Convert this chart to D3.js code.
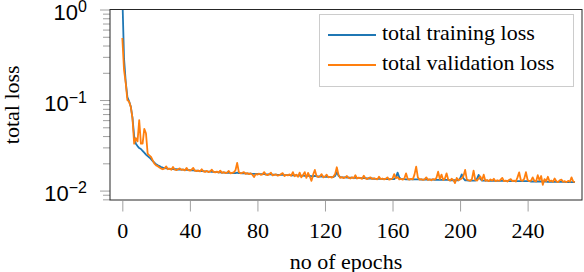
<!doctype html>
<html lang="en">
<head>
    <meta charset="UTF-8">
    <title>total loss</title>
    <script type="text/javascript" src="https://cdn.jsdelivr.net/npm/d3@7/dist/d3.min.js"></script>
    <style type="text/css">
        body {
            margin: 0;
            background: #fff;
        }
        svg {
            display: block;
            font-family: "Liberation Serif", "Times New Roman", serif;
        }
    </style>
</head>
<body>
<script type="text/javascript">
    // values, one per epoch (0..268)
    var training_loss = [
        1.45, 0.29, 0.16, 0.108, 0.097, 0.085, 0.064, 0.040, 0.033, 0.031,
        0.0295, 0.0288, 0.0275, 0.0262, 0.0250, 0.0240, 0.0232, 0.0222, 0.0212, 0.0203,
        0.0196, 0.0190, 0.0186, 0.0182, 0.0179, 0.0177, 0.0176, 0.0175, 0.0174, 0.0174,
        0.0173, 0.0172, 0.0172, 0.0171, 0.0171, 0.0170, 0.0170, 0.0169, 0.0169, 0.0168,
        0.0168, 0.0167, 0.0167, 0.0166, 0.0166, 0.0165, 0.0165, 0.0164, 0.0164, 0.0163,
        0.0163, 0.0162, 0.0162, 0.0161, 0.0161, 0.0160, 0.0160, 0.0159, 0.0159, 0.0158,
        0.0158, 0.0158, 0.0157, 0.0157, 0.0157, 0.0156, 0.0157, 0.0156, 0.0158, 0.0156,
        0.0156, 0.0155, 0.0155, 0.0155, 0.0154, 0.0154, 0.0154, 0.0153, 0.0153, 0.0153,
        0.0153, 0.0152, 0.0152, 0.0152, 0.0152, 0.0151, 0.0151, 0.0151, 0.0151, 0.0150,
        0.0150, 0.0150, 0.0149, 0.0149, 0.0149, 0.0149, 0.0148, 0.0148, 0.0148, 0.0148,
        0.0147, 0.0147, 0.0147, 0.0147, 0.0146, 0.0146, 0.0146, 0.0146, 0.0145, 0.0145,
        0.0145, 0.0145, 0.0144, 0.0144, 0.0145, 0.0144, 0.0143, 0.0143, 0.0143, 0.0143,
        0.0142, 0.0142, 0.0142, 0.0142, 0.0141, 0.0141, 0.0145, 0.0160, 0.0146, 0.0141,
        0.0140, 0.0140, 0.0140, 0.0139, 0.0139, 0.0139, 0.0139, 0.0138, 0.0138, 0.0138,
        0.0138, 0.0137, 0.0137, 0.0137, 0.0137, 0.0136, 0.0136, 0.0136, 0.0136, 0.0135,
        0.0135, 0.0135, 0.0135, 0.0135, 0.0135, 0.0134, 0.0134, 0.0134, 0.0134, 0.0134,
        0.0134, 0.0134, 0.0140, 0.0158, 0.0140, 0.0134, 0.0134, 0.0134, 0.0133, 0.0133,
        0.0133, 0.0133, 0.0133, 0.0133, 0.0133, 0.0133, 0.0133, 0.0132, 0.0132, 0.0132,
        0.0132, 0.0132, 0.0132, 0.0132, 0.0132, 0.0131, 0.0131, 0.0131, 0.0131, 0.0131,
        0.0131, 0.0131, 0.0131, 0.0131, 0.0130, 0.0130, 0.0130, 0.0130, 0.0130, 0.0130,
        0.0136, 0.0151, 0.0136, 0.0130, 0.0130, 0.0129, 0.0129, 0.0129, 0.0129, 0.0129,
        0.0135, 0.0149, 0.0134, 0.0129, 0.0129, 0.0129, 0.0129, 0.0128, 0.0128, 0.0128,
        0.0128, 0.0128, 0.0128, 0.0128, 0.0128, 0.0128, 0.0128, 0.0128, 0.0127, 0.0127,
        0.0127, 0.0127, 0.0127, 0.0127, 0.0127, 0.0127, 0.0127, 0.0127, 0.0127, 0.0127,
        0.0127, 0.0127, 0.0126, 0.0126, 0.0126, 0.0126, 0.0126, 0.0126, 0.0126, 0.0126,
        0.0126, 0.0126, 0.0125, 0.0125, 0.0125, 0.0125, 0.0125, 0.0125, 0.0125, 0.0125,
        0.0125, 0.0125, 0.0125, 0.0124, 0.0124, 0.0124, 0.0124, 0.0124, 0.0124
    ];
    var validation_loss = [
        0.485, 0.215, 0.155, 0.100, 0.096, 0.084, 0.063, 0.033, 0.038, 0.035,
        0.060, 0.033, 0.033, 0.048, 0.043, 0.0255, 0.0245, 0.0236, 0.0216, 0.0198,
        0.0190, 0.0186, 0.0180, 0.0175, 0.0172, 0.0176, 0.0185, 0.0172, 0.0175, 0.0170,
        0.0182, 0.0171, 0.0168, 0.0172, 0.0176, 0.0169, 0.0171, 0.0167, 0.0178, 0.0168,
        0.0166, 0.0170, 0.0178, 0.0166, 0.0164, 0.0167, 0.0163, 0.0172, 0.0163, 0.0161,
        0.0165, 0.0160, 0.0163, 0.0170, 0.0161, 0.0159, 0.0162, 0.0158, 0.0166, 0.0157,
        0.0160, 0.0156, 0.0158, 0.0165, 0.0155, 0.0157, 0.0159, 0.0168, 0.0202, 0.0160,
        0.0155, 0.0157, 0.0160, 0.0153, 0.0156, 0.0152, 0.0155, 0.0150, 0.0141, 0.0152,
        0.0150, 0.0154, 0.0149, 0.0151, 0.0160, 0.0150, 0.0148, 0.0152, 0.0158, 0.0147,
        0.0149, 0.0151, 0.0146, 0.0148, 0.0152, 0.0156, 0.0145, 0.0149, 0.0147, 0.0151,
        0.0146, 0.0160, 0.0144, 0.0150, 0.0142, 0.0158, 0.0140, 0.0149, 0.0160, 0.0138,
        0.0157, 0.0143, 0.0128, 0.0150, 0.0169, 0.0145, 0.0141, 0.0144, 0.0152, 0.0140,
        0.0143, 0.0150, 0.0140, 0.0142, 0.0139, 0.0143, 0.0152, 0.0181, 0.0150, 0.0138,
        0.0141, 0.0137, 0.0140, 0.0145, 0.0138, 0.0136, 0.0140, 0.0137, 0.0148, 0.0136,
        0.0139, 0.0137, 0.0135, 0.0146, 0.0136, 0.0134, 0.0138, 0.0140, 0.0134, 0.0137,
        0.0135, 0.0133, 0.0142, 0.0134, 0.0136, 0.0133, 0.0135, 0.0140, 0.0132, 0.0134,
        0.0136, 0.0152, 0.0137, 0.0141, 0.0133, 0.0135, 0.0132, 0.0136, 0.0155, 0.0134,
        0.0132, 0.0135, 0.0133, 0.0150, 0.0184, 0.0140, 0.0132, 0.0134, 0.0131, 0.0133,
        0.0140, 0.0131, 0.0133, 0.0130, 0.0134, 0.0132, 0.0138, 0.0162, 0.0134, 0.0150,
        0.0131, 0.0136, 0.0155, 0.0132, 0.0129, 0.0135, 0.0131, 0.0121, 0.0138, 0.0130,
        0.0133, 0.0136, 0.0145, 0.0169, 0.0132, 0.0130, 0.0128, 0.0134, 0.0166, 0.0131,
        0.0129, 0.0136, 0.0143, 0.0130, 0.0150, 0.0128, 0.0131, 0.0127, 0.0133, 0.0129,
        0.0135, 0.0127, 0.0130, 0.0128, 0.0132, 0.0138, 0.0127, 0.0129, 0.0126, 0.0131,
        0.0134, 0.0127, 0.0129, 0.0126, 0.0140, 0.0159, 0.0130, 0.0128, 0.0135, 0.0160,
        0.0131, 0.0127, 0.0129, 0.0140, 0.0128, 0.0126, 0.0148, 0.0130, 0.0145, 0.0116,
        0.0134, 0.0127, 0.0142, 0.0126, 0.0129, 0.0125, 0.0136, 0.0127, 0.0124, 0.0130,
        0.0132, 0.0125, 0.0127, 0.0124, 0.0128, 0.0125, 0.0140, 0.0126, 0.0124
    ];
    var x_ticks = [0, 40, 80, 120, 160, 200, 240];
    var y_ticks = [0.01, 0.1, 1];
    var y_tick_exps = ["\u22122", "\u22121", "0"];
    var series_names = ["total training loss", "total validation loss"];
    var series_colors = ["#1f77b4", "#ff7f0e"];

    var width = 584;
    var height = 272;
    // plot box (note: "top" is reserved on window, so use a prefix)
    var p_left = 110, p_right = 582, p_top = 9.5, p_bottom = 200;

    var x_scale = d3.scaleLinear().domain([-7.3, 272.2]).range([p_left, p_right]);
    var y_scale = d3.scaleLog().domain([Math.pow(10, -2.104), 1]).range([p_bottom, p_top]);

    var svg = d3.select("body").append("svg").attr("width", width).attr("height", height);

    svg.append("clipPath").attr("id", "plot_clip")
        .append("rect")
        .attr("x", p_left).attr("y", p_top)
        .attr("width", p_right - p_left).attr("height", p_bottom - p_top);

    // minor log ticks on y
    var minor = y_scale.ticks().filter(function (v) {
        return y_ticks.indexOf(v) < 0;
    });
    svg.append("g")
        .attr("transform", "translate(" + p_left + ",0)")
        .call(d3.axisLeft(y_scale).tickValues(minor).tickSizeInner(7).tickSizeOuter(0).tickFormat(""))
        .call(function (g) {
            g.select(".domain").remove();
            g.selectAll("line").attr("stroke", "#a0a0a0").attr("stroke-width", 1);
        });

    // major y ticks
    var y_axis = svg.append("g")
        .attr("transform", "translate(" + p_left + ",0)")
        .call(d3.axisLeft(y_scale).tickValues(y_ticks).tickSizeInner(10).tickSizeOuter(0).tickFormat(""))
        .call(function (g) {
            g.select(".domain").remove();
            g.selectAll("line").attr("stroke", "#a0a0a0").attr("stroke-width", 1);
        });
    y_axis.selectAll(".tick").each(function (d, i) {
        var t = d3.select(this).append("text")
            .attr("x", -23)
            .attr("y", 10)
            .attr("fill", "#000")
            .attr("text-anchor", "end")
            .style("font-size", "22px");
        t.append("tspan").text("10");
        t.append("tspan").attr("dy", -8).style("font-size", "16px").text(y_tick_exps[i]);
    });

    // x ticks
    svg.append("g")
        .attr("transform", "translate(0," + (p_bottom + 1) + ")")
        .call(d3.axisBottom(x_scale).tickValues(x_ticks).tickSizeInner(10.5).tickSizeOuter(0))
        .call(function (g) {
            g.select(".domain").remove();
            g.selectAll("line").attr("stroke", "#a0a0a0").attr("stroke-width", 1);
            g.selectAll("text")
                .attr("y", 37).attr("dy", null)
                .attr("fill", "#000")
                .style("font-size", "22px")
                .style("font-family", "Liberation Serif");
        });

    // lines
    var line = d3.line()
        .x(function (d, i) { return x_scale(i); })
        .y(function (d) { return y_scale(d); });

    var plot = svg.append("g").attr("clip-path", "url(#plot_clip)");
    [training_loss, validation_loss].forEach(function (s, k) {
        plot.append("path")
            .datum(s)
            .attr("d", line)
            .attr("fill", "none")
            .attr("stroke", series_colors[k])
            .attr("stroke-width", 1.8)
            .attr("stroke-linejoin", "round");
    });

    // frame
    svg.append("rect")
        .attr("x", p_left).attr("y", p_top)
        .attr("width", p_right - p_left).attr("height", p_bottom - p_top)
        .attr("fill", "none")
        .attr("stroke", "#262626")
        .attr("stroke-width", 1);

    // legend
    var legend = svg.append("g");
    legend.append("rect")
        .attr("x", 319.5).attr("y", 14.5)
        .attr("width", 254).attr("height", 72)
        .attr("fill", "#fff")
        .attr("stroke", "#cccccc");
    series_names.forEach(function (name, k) {
        var ly = 35 + k * 30;
        legend.append("line")
            .attr("x1", 328).attr("x2", 376)
            .attr("y1", ly).attr("y2", ly)
            .attr("stroke", series_colors[k])
            .attr("stroke-width", 1.8);
        legend.append("text")
            .attr("x", 382).attr("y", ly + 5)
            .style("font-size", "22px")
            .text(name);
    });

    // axis titles
    svg.append("text")
        .attr("x", (p_left + p_right) / 2).attr("y", 269)
        .attr("text-anchor", "middle")
        .style("font-size", "22px")
        .text("no of epochs");
    svg.append("text")
        .attr("transform", "translate(19," + ((p_top + p_bottom) / 2) + ") rotate(-90)")
        .attr("text-anchor", "middle")
        .style("font-size", "22px")
        .text("total loss");
</script>
</body>
</html>
